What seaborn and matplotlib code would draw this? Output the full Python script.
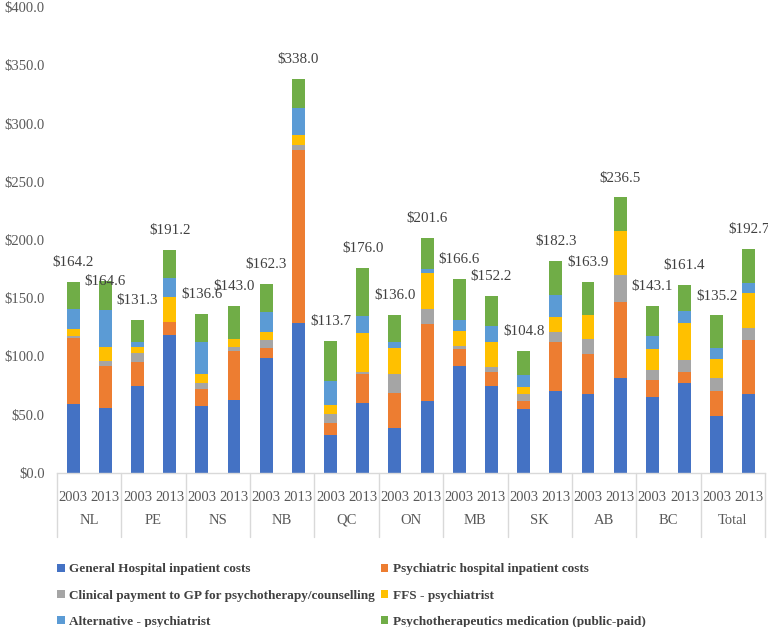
import matplotlib
matplotlib.use("Agg")
import matplotlib.pyplot as plt
import matplotlib.transforms as mtransforms
from matplotlib.patches import Patch
import seaborn as sns
import pandas as pd
import numpy as np

provinces = ['NL', 'PE', 'NS', 'NB', 'QC', 'ON', 'MB', 'SK', 'AB', 'BC', 'Total']
years = ['2003', '2013']

general = [59.5, 56.1, 74.4, 118.2, 57.2, 62.7, 98.4, 128.8, 32.6, 59.8, 38.9, 61.8,
           92.1, 74.4, 54.9, 70.1, 68.1, 81.8, 65.5, 77.3, 48.9, 67.8]
psychiatric = [56.7, 36.0, 20.9, 11.2, 14.9, 41.7, 9.2, 148.5, 10.0, 25.2, 29.8, 66.1,
               14.3, 12.3, 6.9, 42.6, 33.8, 65.2, 14.6, 9.1, 21.5, 46.6]
clinical = [1.4, 3.8, 8.0, 0.5, 4.9, 3.8, 6.8, 4.2, 7.8, 2.0, 16.5, 12.9,
            2.6, 4.3, 6.0, 8.3, 13.1, 23.0, 8.3, 10.6, 11.1, 10.1]
ffs = [5.7, 12.5, 5.1, 21.2, 8.0, 6.8, 6.9, 8.9, 8.2, 33.4, 22.1, 30.6,
       12.6, 21.7, 6.3, 13.2, 20.6, 37.7, 17.8, 31.5, 16.1, 30.3]
alternative = [17.7, 31.8, 4.3, 16.3, 27.2, 0.0, 16.6, 23.2, 20.4, 14.6, 4.9, 3.4,
               9.5, 13.7, 9.7, 18.3, 0.0, 0.0, 11.7, 10.6, 10.0, 8.0]
medication = [23.2, 24.4, 18.6, 23.8, 24.4, 28.0, 24.4, 24.4, 34.7, 41.0, 23.8, 26.8,
              35.5, 25.8, 21.0, 29.8, 28.3, 28.8, 25.2, 22.3, 27.6, 29.9]
totals = [164.2, 164.6, 131.3, 191.2, 136.6, 143.0, 162.3, 338.0, 113.7, 176.0, 136.0, 201.6,
          166.6, 152.2, 104.8, 182.3, 163.9, 236.5, 143.1, 161.4, 135.2, 192.7]

series_names = ['General Hospital inpatient costs',
                'Psychiatric hospital inpatient costs',
                'Clinical payment to GP for psychotherapy/counselling',
                'FFS - psychiatrist',
                'Alternative - psychiatrist',
                'Psychotherapeutics medication (public-paid)']
series_values = [general, psychiatric, clinical, ffs, alternative, medication]
colors = ['#4472C4', '#ED7D31', '#A5A5A5', '#FFC000', '#5B9BD5', '#70AD47']

# label vertical offsets (points) – style only
label_offsets = [14] * 22
label_offsets[1] = 0

bar_keys = [f'{p}-{y}' for p in provinces for y in years]
df = pd.DataFrame({'bar': bar_keys})
cum = np.zeros(len(bar_keys))
cum_cols = []
for name, vals in zip(series_names, series_values):
    cum = cum + np.array(vals)
    df[name] = cum.copy()
    cum_cols.append(name)

sns.set_theme(style='white')
plt.rcParams['font.family'] = ['Liberation Serif', 'DejaVu Serif']

fig = plt.figure(figsize=(7.68, 6.27), dpi=100)
ax = fig.add_axes([57 / 768, 1 - 473 / 627, (765 - 57) / 768, (473 - 7) / 627])

for name, col in reversed(list(zip(cum_cols, colors))):
    sns.barplot(data=df, x='bar', y=name, order=bar_keys, color=col, width=0.4,
                saturation=1, edgecolor='none', linewidth=0, ax=ax, errorbar=None)

ax.set_xlim(-0.5, len(bar_keys) - 0.5)
ax.set_ylim(0, 400)
yt = np.arange(0, 401, 50)
ax.set_yticks(yt)
ax.set_yticklabels([f'${v:.1f}' for v in yt])
ax.set_xticks(range(len(bar_keys)))
ax.set_xticklabels([y for p in provinces for y in years])
ax.tick_params(axis='y', length=0, pad=9, labelsize=10.5, labelcolor='#595959')
ax.tick_params(axis='x', length=0, pad=13, labelsize=10.5, labelcolor='#595959')
ax.set_xlabel('')
ax.set_ylabel('')
ax.grid(False)
for s in ['left', 'right', 'top']:
    ax.spines[s].set_visible(False)
ax.spines['bottom'].set_color('#D9D9D9')
ax.spines['bottom'].set_linewidth(1)

# value labels
for i, t in enumerate(totals):
    ax.annotate(f'${t:.1f}', xy=(i, t), xytext=(0, label_offsets[i]),
                textcoords='offset points', ha='center', va='center',
                fontsize=10.8, color='#404040')

# group labels and separators
trans = mtransforms.blended_transform_factory(ax.transData, ax.transAxes)
ax_h = 473 - 7
for k in range(len(provinces) + 1):
    xpos = 2 * k - 0.5
    ax.plot([xpos, xpos], [0, -64 / ax_h], transform=trans, color='#D9D9D9',
            lw=1, clip_on=False)
for k, p in enumerate(provinces):
    ax.text(2 * k + 0.5, -47 / ax_h, p, transform=trans, ha='center', va='center',
            fontsize=10.5, color='#595959')

# legend
order = [0, 2, 4, 1, 3, 5]
handles = [Patch(facecolor=colors[i], edgecolor='none') for i in order]
labels = [series_names[i] for i in order]
fig.legend(handles, labels, loc='upper left', ncol=2,
           bbox_to_anchor=(52 / 768, 1 - 558 / 627), frameon=False,
           prop={'family': ['Liberation Serif'], 'weight': 'bold', 'size': 9.5},
           labelcolor='#404040', handlelength=0.55, handleheight=0.55,
           handletextpad=0.35, labelspacing=1.08, columnspacing=0.45,
           borderaxespad=0)

fig.savefig('out.png', dpi=100)
